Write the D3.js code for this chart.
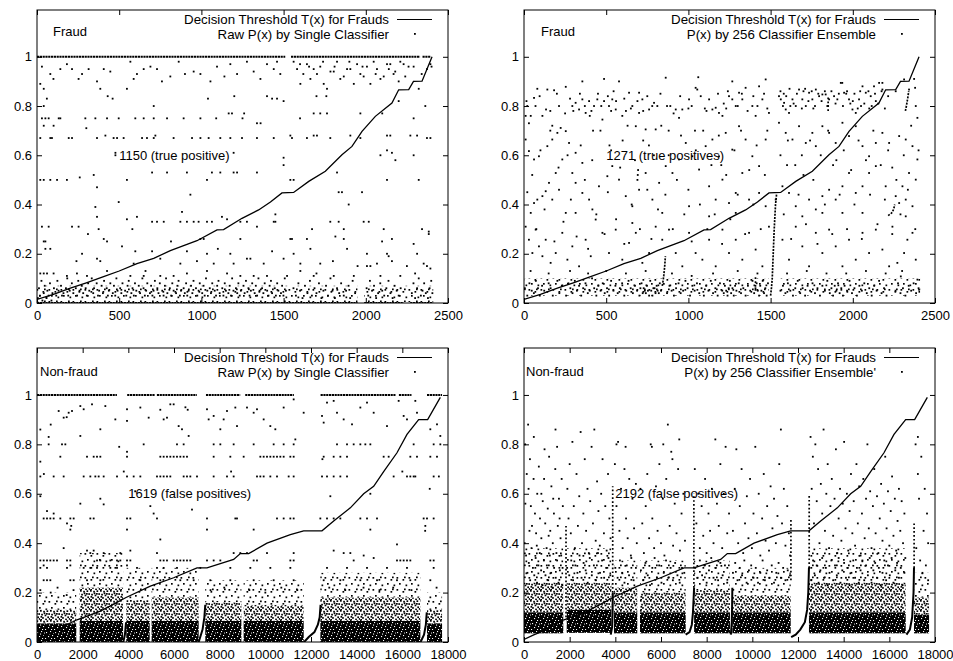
<!DOCTYPE html>
<html><head><meta charset="utf-8">
<script src="https://cdn.jsdelivr.net/npm/d3@7"></script>
<style>body{margin:0;background:#fff}svg text{font-family:"Liberation Sans",Arial,Helvetica,sans-serif}</style>
</head><body><svg id="c" width="953" height="661"></svg>
<script>
// ---------------- DATA ----------------
const yTicks = [0, 0.2, 0.4, 0.6, 0.8, 1];
const fraudTicksX = [0, 500, 1000, 1500, 2000, 2500];
const nonFraudTicksX = [0, 2000, 4000, 6000, 8000, 10000, 12000, 14000, 16000, 18000];
const panelTitles = ["Fraud", "Fraud", "Non-fraud", "Non-fraud"];
const legendLine = "Decision Threshold T(x) for Frauds";
const legendDots = ["Raw P(x) by Single Classifier", "P(x) by 256 Classifier Ensemble", "Raw P(x) by Single Classifier", "P(x) by 256 Classifier Ensemble'"];
const annotations = ["1150 (true positive)", "1271 (true positives)", "1619 (false positives)", "2192 (false positives)"];
const annotationAt = [[500, 0.6], [500, 0.6], [4000, 0.6], [4000, 0.6]];

const fraudThreshold = [[0,0.015],[100,0.035],[203,0.06],[300,0.082],[405,0.107],[500,0.13],[608,0.16],[710,0.181],[811,0.213],[900,0.235],[973,0.253],[1095,0.297],[1135,0.298],[1247,0.344],[1348,0.378],[1420,0.41],[1490,0.447],[1561,0.449],[1653,0.494],[1754,0.535],[1855,0.602],[1916,0.636],[1977,0.697],[2058,0.758],[2159,0.812],[2200,0.866],[2261,0.867],[2290,0.90],[2342,0.901],[2403,1.0]];
const nonFraudThreshold = [[0,0.01],[450,0.03],[1000,0.05],[1300,0.07],[1750,0.09],[2200,0.105],[2774,0.125],[3300,0.15],[3900,0.18],[4964,0.226],[5985,0.26],[7007,0.30],[7445,0.30],[8613,0.334],[8905,0.358],[9270,0.358],[10073,0.40],[11095,0.435],[11679,0.45],[12482,0.45],[12993,0.49],[13723,0.543],[14307,0.6],[14745,0.63],[15182,0.69],[15766,0.766],[16204,0.84],[16715,0.90],[17109,0.90],[17664,0.99]];

// dense rows of dots: [y, x0, x1]
const fraudSingleRows = [[1,0,1510],[1,1545,2330],[1,2345,2395],[0,0,1950],[0,1990,2230],[0,2270,2410]];
const nonFraudSingleRows = [[1,0,3500],[1,3950,5150],[1,5250,7000],[1,7400,8900],[1,9120,11250],[1,12420,15700],[1,15850,16400],[1,17080,17740]];

// dense bands: [x0, x1, floor, darkTop, midTop, lightTop]
const fraudSingleBands = [[0,1950,0.004,0.004,0.004,0.07],[1990,2410,0.004,0.004,0.004,0.07]];
const fraudEnsembleBands = [[0,1490,0.03,0.03,0.03,0.1],[1560,2410,0.03,0.03,0.03,0.1]];
const nonFraudSingleBands = [[0,1720,0,0.075,0.13,0.2],[1870,3770,0,0.085,0.22,0.36],[3910,4935,0,0.085,0.17,0.3],[5020,7080,0,0.085,0.18,0.3],[7370,8950,0,0.085,0.16,0.25],[9050,11680,0,0.085,0.15,0.25],[12410,16790,0,0.085,0.18,0.28],[17080,17740,0,0.075,0.13,0.2]];
const nonFraudEnsembleBands = [[0,1720,0.035,0.12,0.24,0.38],[1870,3825,0.037,0.13,0.24,0.38],[3940,4960,0.035,0.12,0.22,0.33],[5080,7080,0.035,0.12,0.2,0.33],[7450,9020,0.035,0.12,0.21,0.33],[9125,11680,0.035,0.12,0.19,0.3],[12480,16717,0.035,0.12,0.24,0.38],[17080,17740,0.035,0.11,0.18,0.28]];

// sorted runs of points that merge into short curves
const fraudEnsembleRuns = [
 [[841,0.07],[846,0.09],[850,0.11],[853,0.13],[856,0.15],[858,0.17],[860,0.19]],
 [[1500,0.03],[1505,0.06],[1510,0.10],[1513,0.15],[1516,0.2],[1519,0.25],[1522,0.3],[1526,0.35],[1530,0.4],[1536,0.44]],
 [[2215,0.355],[2225,0.36],[2235,0.365],[2242,0.37],[2250,0.385],[2255,0.40]],
 [[2320,0.78],[2326,0.80],[2331,0.82],[2336,0.84],[2340,0.86]]];
const nonFraudSingleRuns = [
 [[7080,0],[7150,0.02],[7250,0.05],[7330,0.1],[7370,0.15]],
 [[11700,0],[11900,0.02],[12150,0.04],[12300,0.07],[12380,0.1],[12420,0.15]],
 [[16800,0],[16950,0.03],[17030,0.07],[17070,0.12]],
 [[3780,0],[3850,0.03],[3900,0.08]]];
const nonFraudEnsembleRuns = [
 [[7080,0.03],[7250,0.04],[7350,0.07],[7400,0.12],[7430,0.18],[7450,0.22]],
 [[11700,0.02],[11900,0.03],[12100,0.05],[12300,0.08],[12400,0.13],[12450,0.2],[12480,0.3]],
 [[16750,0.03],[16900,0.05],[17000,0.1],[17060,0.2],[17080,0.3]],
 [[3800,0.03],[3860,0.06],[3880,0.12],[3890,0.2]],
 [[9060,0.03],[9100,0.08],[9115,0.15],[9125,0.22]]];
// vertical dotted columns: [x, y0, y1]
const fraudEnsembleColumns = [[1408,0.05,0.11],[1850,0.78,0.84]];
const nonFraudEnsembleColumns = [[3885,0.2,0.63],[1840,0.1,0.47],[7440,0.22,0.6],[11690,0.25,0.5],[12490,0.3,0.6],[17085,0.3,0.48]];

const fraudSinglePts = `30,.96 20,.89 41,.87 81,.93 100,.91 142,.95 182,.97 213,.95 253,.91 274,.93 314,.95 365,.90 385,.87 406,.95 446,.94 547,.87 568,.98 588,.91 608,.93 649,.95 690,.96 730,.95 760,.90 811,.92 862,.98 900,.93 953,.94 994,.93 1055,.90 1095,.96 1140,.92 1176,.97 1217,.93 1277,.98 1318,.94 1359,.91 1399,.97 1440,.95 1460,.98 1480,.93 1561,.98 1582,.95 1602,.89 1620,.93 1642,.97 1663,.91 1683,.95 1703,.93 1723,.96 1744,.89 1764,.87 1785,.94 1805,.94 1825,.98 1845,.91 1866,.92 1886,.95 1906,.95 1927,.89 1947,.97 1967,.93 1987,.92 2007,.96 2028,.89 2048,.98 2068,.95 2089,.91 2109,.92 2129,.97 2149,.97 2169,.93 2179,.94 2200,.90 2210,.98 2240,.92 2260,.96 2291,.96 2322,.87 2340,.93 2372,.95 2393,.97 2400,.96 1600,.97 1655,.96 1740,.98 1810,.96 1900,.98 1980,.96 2060,.93 2140,.95 2230,.97
41,.80 60,.83 430,.84 460,.83 710,.80 1040,.83 1200,.84 1399,.84 1430,.83 1460,.83 1500,.82 1700,.84 1760,.84 2362,.80 2200,.82
1166,.77 1186,.77 1683,.77 1723,.77 1764,.77 1967,.77 1260,.77 2100,.77
30,.75 51,.75 71,.75 132,.75 142,.75 294,.75 355,.75 426,.75 497,.75 598,.75 649,.75 710,.75 791,.75 892,.75 994,.75 1090,.75 1250,.75 1600,.75 2291,.75
41,.72 101,.72 1338,.73 1360,.73 300,.71
20,.67 81,.67 91,.67 193,.67 213,.67 365,.67 416,.68 466,.67 487,.67 527,.67 639,.67 669,.67 710,.67 720,.68 831,.67 943,.67 994,.67 1044,.67 1115,.67 1176,.67 1247,.67 1338,.67 1440,.67 1541,.68 1551,.67 1642,.67 1683,.68 1703,.68 1784,.67 1906,.68 1967,.67 2129,.68 2149,.68 2271,.68 2312,.68 2372,.67 2393,.67
477,.61 477,.60 1196,.61 1500,.59 1500,.56 2089,.60 2129,.62 2159,.61 2291,.60 2180,.58
20,.50 41,.50 81,.50 122,.50 182,.50 345,.52 547,.50 700,.53 791,.53 912,.53 1034,.50 1064,.53 1115,.53 1196,.53 1217,.53 1338,.53 1541,.50 1561,.50 1825,.53 2129,.50 2322,.50 260,.51
365,.47 1835,.45 1855,.45 1977,.45 1896,.40 933,.44 497,.41 355,.39 365,.35 547,.34 608,.35 882,.37 1450,.36 1440,.33
730,.33 771,.33 872,.33 912,.33 953,.33 983,.33 1034,.33 1064,.33 1125,.35 1156,.34 1237,.33 1277,.33 1784,.33 1835,.33 1987,.33 2018,.33 700,.33
30,.31 71,.31 213,.31 253,.31 375,.30 1338,.31 1450,.33 1673,.30 1866,.30 2109,.30 2342,.30 580,.30 2383,.29 2383,.28
41,.25 51,.25 406,.26 426,.25 994,.26 1014,.26 1237,.26 1541,.26 1551,.26 1642,.26 1815,.27 1866,.26 2099,.25 2159,.26 2291,.24 310,.28 815,.25
51,.22 81,.22 274,.20 517,.23 598,.21 700,.21 912,.21 1034,.20 1176,.20 1298,.18 1561,.20 1663,.22 1886,.22 2007,.20 2129,.20 2139,.19 2312,.20 1100,.22 1430,.21
365,.18 385,.17 588,.16 750,.18 872,.16 973,.17 1075,.16 1196,.16 1277,.18 1379,.16 1500,.18 1602,.16 1723,.16 2028,.15 2068,.16 2159,.17 2352,.16 1950,.15 240,.17 1800,.17 2250,.15
20,.12 41,.12 61,.12 101,.12 182,.11 243,.12 304,.11 426,.13 568,.11 649,.11 750,.11 831,.11 912,.12 1034,.13 1156,.12 1237,.11 1318,.11 1399,.11 1521,.11 1602,.13 1683,.11 1805,.11 1927,.11 2007,.15 2089,.11 2210,.11 2372,.15 2393,.14 1700,.12 2300,.12 660,.13
5,.02 12,.06 18,.03 27,.09 33,.01 41,.04 47,.07 58,.02 63,.05 71,.03 79,.08 88,.01 94,.04 103,.06 117,.03 124,.09 131,.05 146,.07 152,.03 161,.04 176,.06 184,.10 190,.03 199,.05 212,.08 221,.04 236,.06 244,.03 251,.09 259,.05 272,.07 281,.04 296,.06 303,.03 311,.08 318,.05 333,.10 342,.04 347,.06 363,.08 371,.03 378,.05 393,.07 401,.04 408,.09 424,.06 431,.03 437,.05 446,.08 461,.04 468,.07 476,.03 483,.10 490,.05 506,.06 513,.04 520,.08 536,.05 543,.03 551,.07 558,.09 574,.04 581,.06 589,.03 596,.08 604,.05 619,.07 627,.04 641,.10 648,.06 656,.03 664,.05 671,.08 687,.04 694,.07 702,.03 709,.05 717,.09 732,.06 739,.04 747,.08 762,.05 770,.03 778,.07 785,.10 793,.04 808,.06 816,.03 823,.08 831,.05 846,.04 854,.07 861,.09 869,.03 876,.05 892,.06 899,.04 907,.08 914,.03 922,.05 937,.07 945,.04 952,.09 967,.06 975,.03 983,.05 990,.08 1005,.04 1013,.07 1020,.03 1028,.10 1036,.05 1051,.06 1058,.04 1066,.08 1081,.05 1089,.03 1096,.07 1104,.09 1111,.04 1127,.06 1134,.03 1142,.08 1149,.05 1164,.04 1172,.07 1180,.03 1187,.10 1195,.05 1210,.06 1218,.04 1225,.08 1233,.03 1240,.05 1256,.07 1263,.04 1271,.09 1286,.06 1293,.03 1301,.05 1309,.08 1324,.04 1331,.07 1339,.03 1347,.10 1354,.05 1369,.06 1377,.04 1385,.08 1400,.05 1408,.03 1415,.07 1423,.09 1430,.04 1446,.06 1453,.03 1461,.08 1468,.05 1484,.04 1491,.07 1499,.03 1507,.10 1514,.05 1560,.06 1575,.03 1590,.08 1600,.05 1615,.02 1630,.07 1645,.04 1660,.09 1672,.03 1688,.06 1700,.04 1715,.08 1730,.02 1742,.05 1758,.07 1770,.03 1785,.10 1797,.05 1812,.02 1825,.06 1838,.04 1850,.08 1866,.03 1880,.05 1895,.07 1905,.02 1920,.09 1935,.04 2005,.06 2015,.03 2025,.09 2038,.05 2050,.07 2063,.02 2075,.04 2088,.08 2100,.05 2112,.03 2125,.06 2138,.09 2150,.04 2163,.02 2175,.07 2188,.05 2200,.03 2212,.06 2280,.04 2290,.08 2300,.02 2312,.06 2322,.10 2335,.03 2345,.05 2355,.08 2365,.04 2378,.02 2388,.06 2398,.09 2405,.04`;

const fraudEnsemblePts = `81,.87 142,.867 183,.864 254,.878 61,.833 20,.80 41,.76 10,.76 30,.73 112,.76 134,.786 172,.72 213,.80 294,.80 314,.813 335,.786 355,.827 355,.90 375,.772 396,.82 426,.80 446,.827 487,.82 487,.91 517,.80 537,.827 477,.745 558,.786 578,.90 598,.76 639,.854 659,.80 700,.854 720,.827 761,.786 791,.813 811,.80 700,.772 680,.718 740,.705 801,.705 862,.915 923,.786 943,.752 963,.786 1004,.827 1044,.874 1054,.867 1060,.917 1126,.827 1146,.786 1166,.793 1186,.772 1207,.76 1247,.84 1267,.827 1267,.90 1288,.80 1308,.854 1328,.827 1348,.874 1389,.80 1409,.76 1430,.88 1450,.827 1470,.908 1490,.772 1551,.84 1562,.827 1582,.813 1592,.786 1612,.772 1633,.827 1653,.80 1673,.867 1693,.827 1714,.80 1734,.854 1754,.827 1775,.867 1795,.84 1815,.847 1835,.847 1856,.827 1886,.84 1906,.827 1927,.894 1936,.894 1947,.854 1977,.827 1998,.786 2018,.772 2038,.827 2059,.88 2079,.854 2109,.84 2129,.88 2160,.894 2180,.867 2180,.894 2261,.86 2312,.908 2342,.867 2373,.91 2383,.80 2393,.752 2379,.874 1580,.85 1620,.80 1700,.86 1760,.79 1850,.80 1960,.85 2000,.82 2050,.80 2100,.79 2140,.82 870,.80 910,.77 1000,.79 1110,.78 1230,.79 560,.82 620,.78 400,.76 250,.77
1560,.86 1575,.80 1595,.84 1615,.87 1640,.81 1660,.85 1690,.79 1710,.87 1730,.82 1750,.86 1770,.80 1790,.85 1810,.82 1830,.86 1845,.80 1870,.86 1895,.81 1915,.85 1940,.80 1965,.86 1985,.81 2010,.85 2030,.79 2045,.86 2070,.81 2095,.86 2115,.80 2135,.85 2155,.81 2175,.86 2195,.79 2215,.84
15,.82 70,.80 95,.84 160,.78 200,.85 280,.83 300,.78 340,.85 370,.80 410,.78 450,.85 470,.80 510,.84 530,.78 545,.86 610,.83 650,.79 690,.82 725,.78 750,.84 780,.80 830,.85 890,.80 950,.84 1020,.80 1075,.84 1100,.79 1180,.85 1215,.81 1240,.86 1300,.80 1325,.85 1360,.78 1395,.84 1420,.80 1460,.85 1480,.79
10,.664 30,.617 61,.583 91,.596 142,.637 172,.664 203,.691 223,.711 254,.698 274,.65 314,.61 355,.569 294,.528 233,.583 193,.528 152,.488 112,.434 81,.42 41,.366 61,.406 132,.454 172,.42 213,.46 254,.366 314,.488 355,.447 396,.42 416,.38 456,.474 507,.515 537,.556 578,.501 619,.434 659,.393 700,.46 740,.528 781,.42 822,.488 862,.556 903,.528 943,.583 984,.65 1024,.596 1065,.542 1105,.637 1146,.664 1186,.596 1227,.691 1267,.623 1308,.718 1348,.664 1389,.596 1430,.556 1470,.664 1126,.474 1166,.42 1207,.501 1247,.406 1288,.447 1328,.528 1369,.42 1430,.447 1470,.393 1551,.732 1592,.691 1633,.664 1673,.718 1714,.65 1754,.691 1775,.637 1815,.718 1856,.691 1896,.65 1937,.732 1977,.678 2018,.718 2059,.637 2099,.596 2140,.65 2180,.691 2221,.65 2282,.678 2322,.664 2363,.637 2393,.583 2342,.528 2383,.501 2302,.474 2261,.434 2322,.42 2363,.393 2200,.474 2140,.556 2099,.528 2059,.474 2018,.447 1977,.528 1937,.474 1896,.42 1856,.46 1815,.434 1775,.38 1734,.42 1693,.352 1653,.393 1612,.447 1572,.474 1531,.42 690,.50 692,.52 694,.54 600,.66 760,.64 880,.70 1040,.70 420,.70 520,.64 1200,.56 1600,.56 1700,.52 2240,.55 1880,.56
20,.45 50,.52 75,.30 100,.62 125,.38 160,.70 185,.25 210,.55 240,.33 265,.60 285,.42 320,.27 345,.64 370,.50 390,.22 415,.58 440,.36 465,.70 490,.28 510,.45 530,.62 560,.34 585,.55 610,.24 630,.72 655,.40 675,.58 705,.30 725,.66 750,.46 775,.26 790,.60 815,.38 835,.72 860,.44 880,.60 905,.30 930,.50 955,.68 975,.36 1000,.46 1020,.25 1045,.62 1070,.40 1090,.70 1115,.30 1140,.56 1160,.36 1185,.68 1205,.24 1230,.52 1255,.34 1280,.62 1300,.44 1320,.70 1345,.28 1370,.54 1395,.40 1415,.64 1440,.30 1465,.52 1480,.70 1560,.60 1580,.36 1605,.66 1625,.26 1650,.56 1670,.44 1690,.60 1715,.32 1740,.66 1760,.50 1785,.24 1805,.60 1830,.40 1850,.70 1875,.28 1900,.58 1920,.44 1945,.62 1965,.30 1990,.54 2010,.40 2035,.66 2055,.26 2080,.58 2105,.44 2125,.70 2150,.32 2170,.56 2195,.42 2215,.62 2240,.28 2265,.50 2290,.36 2310,.60 2335,.46 2355,.72 2380,.30 2400,.62
10,.31 30,.257 51,.203 71,.298 91,.23 112,.19 132,.257 162,.163 193,.203 233,.285 264,.176 294,.23 335,.149 375,.257 406,.19 436,.339 477,.285 517,.203 558,.298 598,.176 639,.244 680,.285 720,.163 761,.203 801,.31 841,.257 882,.298 923,.203 963,.149 1004,.285 1044,.203 1085,.176 1126,.257 1166,.149 1207,.298 1247,.203 1288,.257 1328,.176 1369,.285 1409,.217 1450,.149 1490,.31 1572,.257 1612,.176 1653,.31 1693,.23 1734,.149 1775,.285 1815,.203 1856,.298 1896,.23 1937,.149 1977,.257 2018,.176 2059,.285 2099,.203 2140,.298 2180,.217 2221,.149 2271,.163 2292,.108 2312,.203 2332,.257 2363,.285 2383,.176 2393,.095 2403,.054 2322,.352 2282,.406 2241,.31 2059,.366 1937,.366 1815,.366 1288,.366 1126,.352 1004,.393 841,.366 659,.325 314,.366 40,.13 150,.12 280,.13 390,.12 500,.13 620,.12 740,.13 900,.12 1020,.11 1150,.12 1300,.13 1420,.12 1600,.12 1720,.13 1840,.12 1960,.12 2080,.13 2200,.12 2300,.13
5,.06 20,.03 33,.08 47,.05 60,.04 72,.09 85,.06 96,.03 110,.07 123,.05 150,.08 162,.06 175,.03 203,.09 215,.04 230,.07 256,.03 270,.08 282,.06 295,.04 309,.09 322,.05 335,.07 348,.03 360,.06 374,.08 388,.04 400,.05 414,.10 427,.06 440,.03 452,.07 466,.05 479,.08 491,.04 505,.06 518,.03 530,.09 544,.05 556,.07 570,.04 583,.06 597,.08 610,.03 622,.05 636,.09 649,.06 662,.04 675,.07 688,.05 702,.03 708,.06 715,.08 722,.04 728,.06 735,.05 741,.04 748,.07 754,.05 761,.03 768,.09 774,.05 781,.03 787,.06 794,.06 800,.04 807,.07 813,.05 820,.04 826,.08 833,.05 870,.04 885,.07 898,.05 912,.03 925,.06 940,.08 953,.04 968,.05 982,.09 995,.06 1010,.03 1024,.07 1038,.05 1052,.08 1066,.04 1080,.06 1094,.03 1108,.07 1122,.05 1136,.09 1150,.04 1164,.06 1178,.03 1192,.08 1206,.05 1215,.04 1222,.07 1230,.05 1238,.03 1245,.06 1252,.09 1260,.04 1268,.06 1276,.03 1284,.07 1292,.05 1306,.08 1320,.04 1334,.06 1348,.03 1362,.07 1376,.05 1390,.09 1400,.04 1408,.06 1415,.08 1422,.05 1430,.03 1437,.07 1444,.05 1452,.09 1460,.04 1468,.06 1476,.03 1484,.08 1560,.05 1575,.07 1590,.04 1605,.08 1620,.05 1636,.03 1650,.06 1665,.09 1680,.04 1695,.06 1710,.03 1725,.07 1740,.05 1755,.08 1770,.04 1785,.06 1800,.03 1815,.07 1830,.05 1845,.09 1860,.04 1870,.06 1880,.03 1890,.07 1900,.05 1910,.08 1920,.04 1930,.06 1940,.03 1950,.07 1965,.05 1980,.09 1995,.04 2010,.06 2025,.03 2040,.07 2055,.05 2070,.08 2085,.04 2100,.06 2115,.03 2130,.07 2145,.05 2160,.09 2175,.04 2190,.06 2205,.03 2260,.05 2275,.08 2290,.04 2305,.06 2320,.03 2340,.07 2355,.05 2370,.08 2385,.04 2400,.06`;

const nonFraudSinglePts = `146,.86 511,.83 949,.935 1168,.908 1387,.928 1533,.935 1898,.955 2044,.942 2409,.962 1898,.834 2774,.861 2993,.955 3431,.901 3942,.942 3942,.895 4526,.949 4891,.908 5547,.901 5693,.908 5839,.962 5985,.962 6204,.874 6350,.861 6642,.834 7445,.942 7518,.901 7737,.915 8029,.861 8175,.901 8321,.935 8686,.949 8759,.874 9197,.949 9489,.928 9635,.942 9927,.901 10219,.874 10438,.861 10803,.949 11241,.982 11314,.82 11679,.928 12482,.915 12555,.888 12701,.969 12993,.976 13139,.928 13431,.901 13796,.881 14161,.949 14453,.969 14745,.928 15328,.874 15839,.976 16058,.915 16204,.901 16569,.976 16642,.928 17226,.861 17518,.881 17664,.834 6500,.95 6600,.94 600,.88 1300,.91 5400,.94
511,.80 1095,.80 1241,.80 4672,.80 6131,.80 6423,.80 7737,.80 8029,.80 8613,.80 9489,.80 10365,.80 10803,.80 11241,.80 13139,.80 13577,.80 13869,.80 14161,.80 14380,.80 14599,.80 16496,.80 17372,.80 17664,.80 3942,.77 3600,.79
1022,.75 2190,.75 2482,.75 2628,.75 2774,.75 3942,.75 5401,.75 5547,.75 5693,.75 5839,.75 5985,.75 6131,.75 6277,.75 6423,.75 6569,.75 7737,.75 8467,.75 9051,.75 9781,.75 9927,.75 10073,.75 10219,.75 10365,.75 10511,.75 10657,.75 10803,.75 11095,.75 11241,.75 12555,.75 12993,.75 13285,.75 13577,.75 15182,.75 15401,.75 16350,.75 16642,.75 17226,.75 17518,.75 146,.73 12500,.74
146,.67 300,.68 730,.67 1168,.67 2044,.67 2336,.67 2555,.67 2701,.67 2920,.67 3504,.67 3942,.67 4234,.67 4526,.67 5255,.67 5401,.67 5547,.67 5693,.67 5839,.67 6423,.67 6569,.67 6715,.67 7007,.67 7737,.67 8321,.67 8613,.67 9635,.67 9781,.67 9927,.67 10219,.67 10511,.67 11022,.67 11241,.67 12482,.67 12701,.67 12993,.67 13285,.67 13577,.67 15620,.67 16204,.67 16350,.67 16496,.67 16569,.67 17372,.67 17600,.67 3800,.69 8500,.69 16000,.69
1898,.56 2774,.58 2920,.557 12847,.59 14599,.60 146,.59 6788,.536 4300,.61 17200,.62
292,.50 438,.50 584,.50 730,.50 1022,.50 1460,.50 1606,.50 2336,.50 2482,.50 3942,.50 4088,.50 5255,.50 7445,.50 8686,.50 8759,.50 10511,.50 10803,.50 11095,.50 11241,.50 12409,.50 12701,.50 12993,.50 13285,.50 14161,.50 14453,.50 14891,.50 16934,.50 17080,.50 17372,.50 438,.53 730,.52
1314,.48 1460,.455 3942,.455 5109,.52 5401,.415 7445,.455 9489,.455 14599,.455 15766,.395 17007,.47 4964,.55 1500,.47 17000,.45
146,.33 292,.33 438,.33 584,.33 730,.33 876,.33 1314,.33 1460,.33 2628,.33 2774,.33 3212,.33 3504,.33 3650,.33 3942,.33 4088,.33 5401,.33 5547,.33 5693,.33 5985,.33 6131,.33 6277,.33 6423,.33 6569,.33 6715,.33 7445,.33 7737,.33 8029,.33 9489,.33 9635,.33 11095,.33 11241,.33 13869,.33 15766,.33 15912,.33 16058,.33 16204,.33 16350,.33 17226,.33 17372,.33
2190,.37 2336,.36 2482,.37 2920,.36 3650,.36 4088,.37 5255,.36 8613,.36 8905,.36 9197,.36 10073,.36 11241,.36 12993,.37 13431,.36 13723,.36 14307,.35 14745,.34 1168,.38
146,.30 292,.31 438,.30 1314,.30 1460,.31 2044,.30 2336,.30 2628,.30 3212,.30 3504,.30 3942,.31 4380,.30 5255,.30 5547,.30 6131,.30 7153,.30 8467,.30 9343,.30 10219,.30 11095,.30 12701,.30 13577,.30 14453,.30 15328,.30 16204,.30 17372,.30
292,.25 438,.25 584,.25 1460,.25 1606,.25 2190,.25 2774,.25 3650,.25 4526,.25 5401,.25 6277,.25 6861,.25 7591,.25 8467,.25 9489,.25 10365,.25 11241,.25 12555,.25 13285,.25 14161,.25 14891,.25 15766,.25 16350,.25 17226,.25
146,.21 600,.20 900,.22 1300,.19 1600,.21 7600,.21 8200,.22 9300,.21 10000,.20 10700,.22 11400,.21 12800,.22 13500,.21 14300,.22 15000,.21 15600,.22 16400,.21 17500,.22`;

const nonFraudEnsemblePts = `50,.80 120,.68 200,.62 260,.74 300,.55 350,.47 420,.66 480,.52 530,.44 580,.60 650,.71 700,.50 760,.42 820,.57 880,.66 930,.48 990,.38 1040,.54 1100,.75 1150,.45 1200,.63 1260,.40 1310,.52 1370,.70 1420,.36 1480,.47 1530,.58 1600,.42 1650,.66 1690,.30 180,.88 430,.83 900,.78 1380,.86 1450,.79
30,.40 90,.35 150,.28 210,.32 270,.25 330,.38 390,.30 450,.27 510,.34 570,.24 630,.31 690,.36 750,.29 810,.23 870,.33 940,.27 1000,.31 1060,.25 1130,.35 1190,.28 1250,.22 1320,.30 1390,.26 1450,.33 1510,.24 1570,.29 1630,.35 1680,.23 60,.56 240,.45 560,.39 760,.60 1080,.43 1280,.58 1560,.50 1700,.55
1900,.62 1950,.50 2000,.72 2050,.44 2120,.81 2180,.55 2230,.38 2300,.68 2360,.47 2420,.59 2480,.85 2540,.40 2600,.52 2660,.74 2720,.45 2780,.62 2840,.36 2900,.57 2960,.79 3020,.48 3080,.86 3140,.41 3200,.65 3260,.53 3320,.39 3380,.60 3440,.74 3500,.44 3560,.55 3620,.37 3680,.68 3740,.50 3790,.42
1890,.30 1980,.27 2070,.33 2150,.25 2250,.31 2340,.28 2430,.35 2520,.26 2610,.32 2700,.29 2790,.24 2880,.34 2970,.27 3060,.31 3150,.25 3240,.36 3330,.28 3420,.33 3510,.26 3600,.30 3700,.34 3780,.27
3980,.72 4050,.55 4120,.81 4180,.45 4250,.62 4320,.38 4400,.70 4470,.50 4540,.42 4610,.66 4680,.35 4750,.58 4820,.46 4900,.64 4940,.40 4000,.30 4100,.26 4200,.33 4300,.28 4400,.24 4500,.31 4600,.27 4700,.34 4800,.25 4900,.30 4050,.80 4450,.79
5100,.62 5180,.48 5250,.36 5330,.55 5400,.68 5480,.42 5550,.80 5620,.50 5700,.38 5780,.63 5850,.45 5930,.72 6000,.40 6080,.58 6150,.35 6230,.66 6300,.88 6380,.47 6450,.77 6530,.39 6600,.56 6680,.44 6750,.70 6830,.37 6900,.52 6980,.60 7050,.41
5120,.29 5220,.25 5320,.32 5420,.27 5520,.23 5620,.30 5720,.34 5820,.26 5920,.31 6020,.24 6120,.28 6220,.33 6320,.26 6420,.30 6520,.25 6620,.32 6720,.27 6820,.24 6920,.30 7020,.28 5600,.79 6100,.80 6500,.74 6800,.82
7480,.70 7550,.48 7630,.60 7700,.38 7780,.55 7850,.43 7930,.66 8000,.36 8080,.52 8150,.45 8230,.62 8300,.40 8380,.82 8450,.56 8530,.47 8600,.72 8680,.38 8750,.60 8830,.79 8900,.44 8980,.52
7500,.30 7600,.26 7700,.33 7800,.27 7900,.31 8000,.24 8100,.29 8200,.34 8300,.26 8400,.30 8500,.25 8600,.32 8700,.27 8800,.31 8900,.24
9150,.45 9230,.62 9300,.78 9380,.40 9450,.55 9530,.70 9600,.36 9680,.48 9760,.59 9830,.42 9900,.66 9980,.38 10050,.52 10130,.79 10200,.44 10280,.60 10350,.35 10430,.50 10500,.68 10580,.41 10650,.55 10730,.37 10800,.63 10880,.46 10950,.58 11030,.40 11100,.51 11180,.72 11250,.86 11300,.48 11380,.62 11450,.39 11530,.55 11600,.44 11650,.35
9150,.28 9250,.32 9350,.25 9450,.30 9550,.27 9650,.33 9750,.24 9850,.29 9950,.31 10050,.26 10150,.30 10250,.24 10350,.28 10450,.33 10550,.25 10650,.29 10750,.26 10850,.31 10950,.24 11050,.28 11150,.32 11250,.26 11350,.30 11450,.25 11550,.29 11650,.27
12550,.83 12600,.62 12650,.75 12700,.48 12760,.80 12820,.57 12880,.70 12940,.40 13000,.64 13060,.52 13120,.86 13180,.45 13240,.60 13300,.72 13360,.38 13420,.55 13480,.66 13540,.43 13600,.58 13660,.78 13720,.36 13780,.50 13840,.62 13900,.41 13960,.56 14020,.81 14080,.46 14140,.60 14200,.37 14260,.53 14320,.68 14380,.44 14440,.57 14500,.39 14560,.72 14620,.48 14680,.63 14740,.35 14800,.52 14860,.66 14920,.42 14980,.58 15040,.80 15100,.46 15160,.61 15220,.38 15280,.55 15340,.70 15400,.44 15460,.59 15520,.36 15580,.50 15640,.64 15700,.41 15760,.56 15820,.75 15880,.46 15940,.61 16000,.39 16060,.53 16120,.67 16180,.43 16240,.58 16300,.37 16360,.49 16420,.62 16480,.45 16540,.57 16600,.40 16660,.52 16700,.34
12500,.30 12580,.25 12660,.33 12740,.27 12820,.31 12900,.24 12980,.29 13060,.34 13140,.26 13220,.30 13300,.23 13380,.28 13460,.33 13540,.25 13620,.31 13700,.27 13780,.34 13860,.24 13940,.29 14020,.32 14100,.26 14180,.30 14260,.23 14340,.28 14420,.33 14500,.26 14580,.30 14660,.24 14740,.29 14820,.33 14900,.25 14980,.31 15060,.27 15140,.34 15220,.24 15300,.29 15380,.32 15460,.26 15540,.30 15620,.23 15700,.28 15780,.33 15860,.25 15940,.31 16020,.27 16100,.34 16180,.24 16260,.29 16340,.32 16420,.26 16500,.30 16580,.23 16660,.28
17150,.80 17250,.68 17300,.58 17400,.75 17500,.45 17550,.62 17650,.52 17700,.40 17180,.38 17350,.33 17450,.28 17600,.31 17700,.25 17250,.83`;

// ---------------- DRAW ----------------
const parsePts = s => s.trim().split(/\s+/).map(p => p.split(",").map(Number));
const svg = d3.select("#c");
const defs = svg.append("defs");
// dot textures for regions too dense to draw dot by dot
function makePattern(id, size, bg, spots, sq) {
  const p = defs.append("pattern").attr("id", id).attr("patternUnits", "userSpaceOnUse").attr("width", size).attr("height", size);
  p.append("rect").attr("width", size).attr("height", size).attr("fill", bg);
  spots.forEach(s => p.append("rect").attr("x", s[0]).attr("y", s[1]).attr("width", sq).attr("height", sq).attr("fill", bg === "#000" ? "#fff" : "#000"));
}
makePattern("pDark", 9, "#000", [[1,2],[5,1],[7,5],[3,6],[0,8],[6,8],[4,3.5],[8.2,2.5]], 1.1);
makePattern("pMid", 10, "#fff", [[0,0],[3.2,0.8],[6.5,0.3],[8.3,3.2],[1.2,3.8],[4.6,4.6],[7.3,6.4],[2.1,7.1],[5.2,8.6],[8.8,8.1],[0.3,9],[3.7,2.5],[6,3],[0.5,6]], 1.7);
makePattern("pLight", 12, "#fff", [[0.5,1],[6.5,3],[3,7],[9.5,8.5],[8,0.5]], 1.7);

const layout = [
  {x0: 37, x1: 448, y0: 10, y1: 303},
  {x0: 524, x1: 935, y0: 10, y1: 303},
  {x0: 37, x1: 448, y0: 348, y1: 642},
  {x0: 524, x1: 935, y0: 348, y1: 642}];
const panels = [
  {xmax: 2500, ticks: fraudTicksX, thr: fraudThreshold, pts: parsePts(fraudSinglePts), rows: fraudSingleRows, bands: fraudSingleBands, runs: [], runDash: null, cols: [], titleDx: 16, titleDy: 26},
  {xmax: 2500, ticks: fraudTicksX, thr: fraudThreshold, pts: parsePts(fraudEnsemblePts), rows: [], bands: fraudEnsembleBands, runs: fraudEnsembleRuns, runDash: "2 1.2", cols: fraudEnsembleColumns, titleDx: 17, titleDy: 26},
  {xmax: 18000, ticks: nonFraudTicksX, thr: nonFraudThreshold, pts: parsePts(nonFraudSinglePts), rows: nonFraudSingleRows, bands: nonFraudSingleBands, runs: nonFraudSingleRuns, runDash: null, cols: [], titleDx: 3, titleDy: 28},
  {xmax: 18000, ticks: nonFraudTicksX, thr: nonFraudThreshold, pts: parsePts(nonFraudEnsemblePts), rows: [], bands: nonFraudEnsembleBands, runs: nonFraudEnsembleRuns, runDash: null, cols: nonFraudEnsembleColumns, titleDx: 2, titleDy: 28}];

const FS = "13px", LFS = "13.3px";
panels.forEach((P, i) => {
  const L = layout[i];
  const x = d3.scaleLinear().domain([0, P.xmax]).range([L.x0, L.x1]);
  const y = d3.scaleLinear().domain([0, 1.19]).range([L.y1, L.y0]);
  const g = svg.append("g");
  const clipId = "clip" + i;
  defs.append("clipPath").attr("id", clipId).append("rect").attr("x", L.x0).attr("y", L.y0).attr("width", L.x1 - L.x0).attr("height", L.y1 - L.y0);
  const pg = g.append("g").attr("clip-path", `url(#${clipId})`);

  // bands
  const band = (a0, a1, lo, hi, fill) => { if (hi > lo) pg.append("rect").attr("x", x(a0)).attr("width", x(a1) - x(a0)).attr("y", y(hi)).attr("height", y(lo) - y(hi)).attr("fill", fill); };
  P.bands.forEach(b => {
    const [a0, a1, f, d, m, l] = b;
    band(a0, a1, m, l, "url(#pLight)");
    band(a0, a1, d, m, "url(#pMid)");
    band(a0, a1, f, d, "url(#pDark)");
  });
  // dense rows
  P.rows.forEach(r => {
    pg.append("line").attr("x1", x(r[1])).attr("x2", x(r[2])).attr("y1", y(r[0])).attr("y2", y(r[0]))
      .attr("stroke", "#000").attr("stroke-width", 2).attr("stroke-dasharray", "2.2 0.6");
  });
  // vertical columns
  P.cols.forEach(c => {
    pg.append("line").attr("x1", x(c[0])).attr("x2", x(c[0])).attr("y1", y(c[1])).attr("y2", y(c[2]))
      .attr("stroke", "#000").attr("stroke-width", 1.7).attr("stroke-dasharray", "1.7 2.2");
  });
  // runs
  const rl = d3.line().x(d => x(d[0])).y(d => y(d[1]));
  P.runs.forEach(r => {
    const pth = pg.append("path").attr("d", rl(r)).attr("fill", "none").attr("stroke", "#000").attr("stroke-width", P.runDash ? 1.7 : 2);
    if (P.runDash) pth.attr("stroke-dasharray", P.runDash);
  });
  // points
  pg.append("g").selectAll("rect").data(P.pts).join("rect")
    .attr("x", d => x(d[0]) - 0.9).attr("y", d => y(d[1]) - 0.9).attr("width", 1.8).attr("height", 1.8).attr("fill", "#000");
  // threshold
  pg.append("path").attr("d", rl(P.thr)).attr("fill", "none").attr("stroke", "#000").attr("stroke-width", 1.3);

  // axes
  const ax = (sel) => sel.selectAll("text").attr("font-size", FS).attr("font-family", '"Liberation Sans",Arial,sans-serif').attr("fill", "#000");
  const yfmt = d => (d === 0 || d === 1) ? String(d) : d3.format(".1f")(d);
  const gl = g.append("g").attr("transform", `translate(${L.x0},0)`).call(d3.axisLeft(y).tickValues(yTicks).tickFormat(yfmt).tickSizeInner(-5).tickSizeOuter(0).tickPadding(5));
  const gr = g.append("g").attr("transform", `translate(${L.x1},0)`).call(d3.axisRight(y).tickValues(yTicks).tickFormat("").tickSizeInner(-5).tickSizeOuter(0));
  const gb = g.append("g").attr("transform", `translate(0,${L.y1})`).call(d3.axisBottom(x).tickValues(P.ticks).tickFormat(d3.format("d")).tickSizeInner(-5).tickSizeOuter(0).tickPadding(8));
  const gt = g.append("g").attr("transform", `translate(0,${L.y0})`).call(d3.axisTop(x).tickValues(P.ticks).tickFormat("").tickSizeInner(-5).tickSizeOuter(0));
  [gl, gr, gb, gt].forEach(a => { a.select(".domain").remove(); a.selectAll("line").attr("stroke", "#000"); ax(a); });
  g.append("rect").attr("x", L.x0).attr("y", L.y0).attr("width", L.x1 - L.x0).attr("height", L.y1 - L.y0).attr("fill", "none").attr("stroke", "#000").attr("stroke-width", 1);

  // title
  g.append("text").attr("x", L.x0 + P.titleDx).attr("y", L.y0 + P.titleDy).attr("font-size", FS).text(panelTitles[i]);
  // legend
  const lb1 = L.y0 + 13.5, lb2 = L.y0 + 28.5;
  g.append("text").attr("x", L.x1 - 59).attr("y", lb1).attr("text-anchor", "end").attr("font-size", LFS).text(legendLine);
  g.append("line").attr("x1", L.x1 - 51).attr("x2", L.x1 - 16).attr("y1", lb1 - 4).attr("y2", lb1 - 4).attr("stroke", "#000").attr("stroke-width", 1.2);
  g.append("text").attr("x", L.x1 - 59).attr("y", lb2).attr("text-anchor", "end").attr("font-size", LFS).text(legendDots[i]);
  g.append("rect").attr("x", L.x1 - 34).attr("y", lb2 - 5.5).attr("width", 1.8).attr("height", 1.8).attr("fill", "#000");
  // annotation
  g.append("text").attr("x", x(annotationAt[i][0])).attr("y", y(annotationAt[i][1])).attr("dy", "0.35em").attr("font-size", FS).text(annotations[i]);
});
</script></body></html>
